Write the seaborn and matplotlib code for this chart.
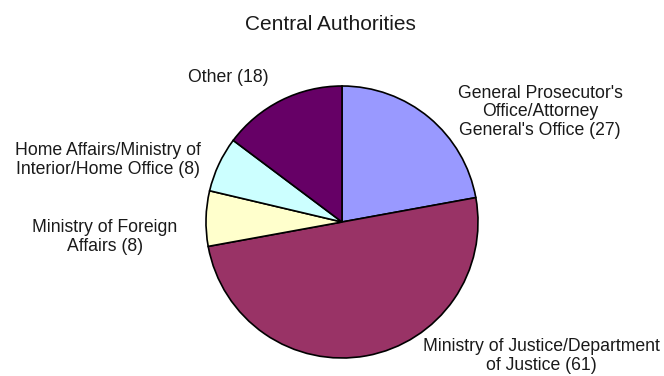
import matplotlib
matplotlib.use("Agg")
import matplotlib.pyplot as plt
import seaborn as sns

sns.set_theme(style="white")
plt.rcParams['font.family'] = ['Liberation Sans', 'DejaVu Sans']

categories = [
    "General Prosecutor's\nOffice/Attorney\nGeneral's Office",
    "Ministry of Justice/Department\nof Justice",
    "Ministry of Foreign\nAffairs",
    "Home Affairs/Ministry of\nInterior/Home Office",
    "Other",
]
values = [27, 61, 8, 8, 18]
colors = ["#9999FF", "#993366", "#FFFFCC", "#CCFFFF", "#660066"]
title = "Central Authorities"

W, H = 664, 376
CX, CY, R = 342, 222, 136

fig = plt.figure(figsize=(W / 100, H / 100), dpi=100)
fig.patch.set_facecolor("white")
ax = fig.add_axes([0, 0, 1, 1])

ax.pie(values, colors=colors, startangle=90, counterclock=False, radius=1,
       wedgeprops=dict(edgecolor="black", linewidth=1.2))
ax.set_aspect("auto")
ax.set_xlim(-CX / R, (W - CX) / R)
ax.set_ylim((CY - H) / R, CY / R)
ax.axis("off")

# label positions in pixels (centre of text block)
label_pos = [(540, 112), (541, 356), (105, 237), (108, 160), (228, 78)]
for cat, val, (px, py) in zip(categories, values, label_pos):
    fig.text(px / W, 1 - py / H, f"{cat} ({val})", ha="center", va="center",
             fontsize=12.7, color="#1a1a1a", linespacing=1.1)

fig.text(330.5 / W, 1 - 25 / H, title, ha="center", va="center",
         fontsize=15, color="#1a1a1a")

fig.savefig("out.png", dpi=100, facecolor="white")
